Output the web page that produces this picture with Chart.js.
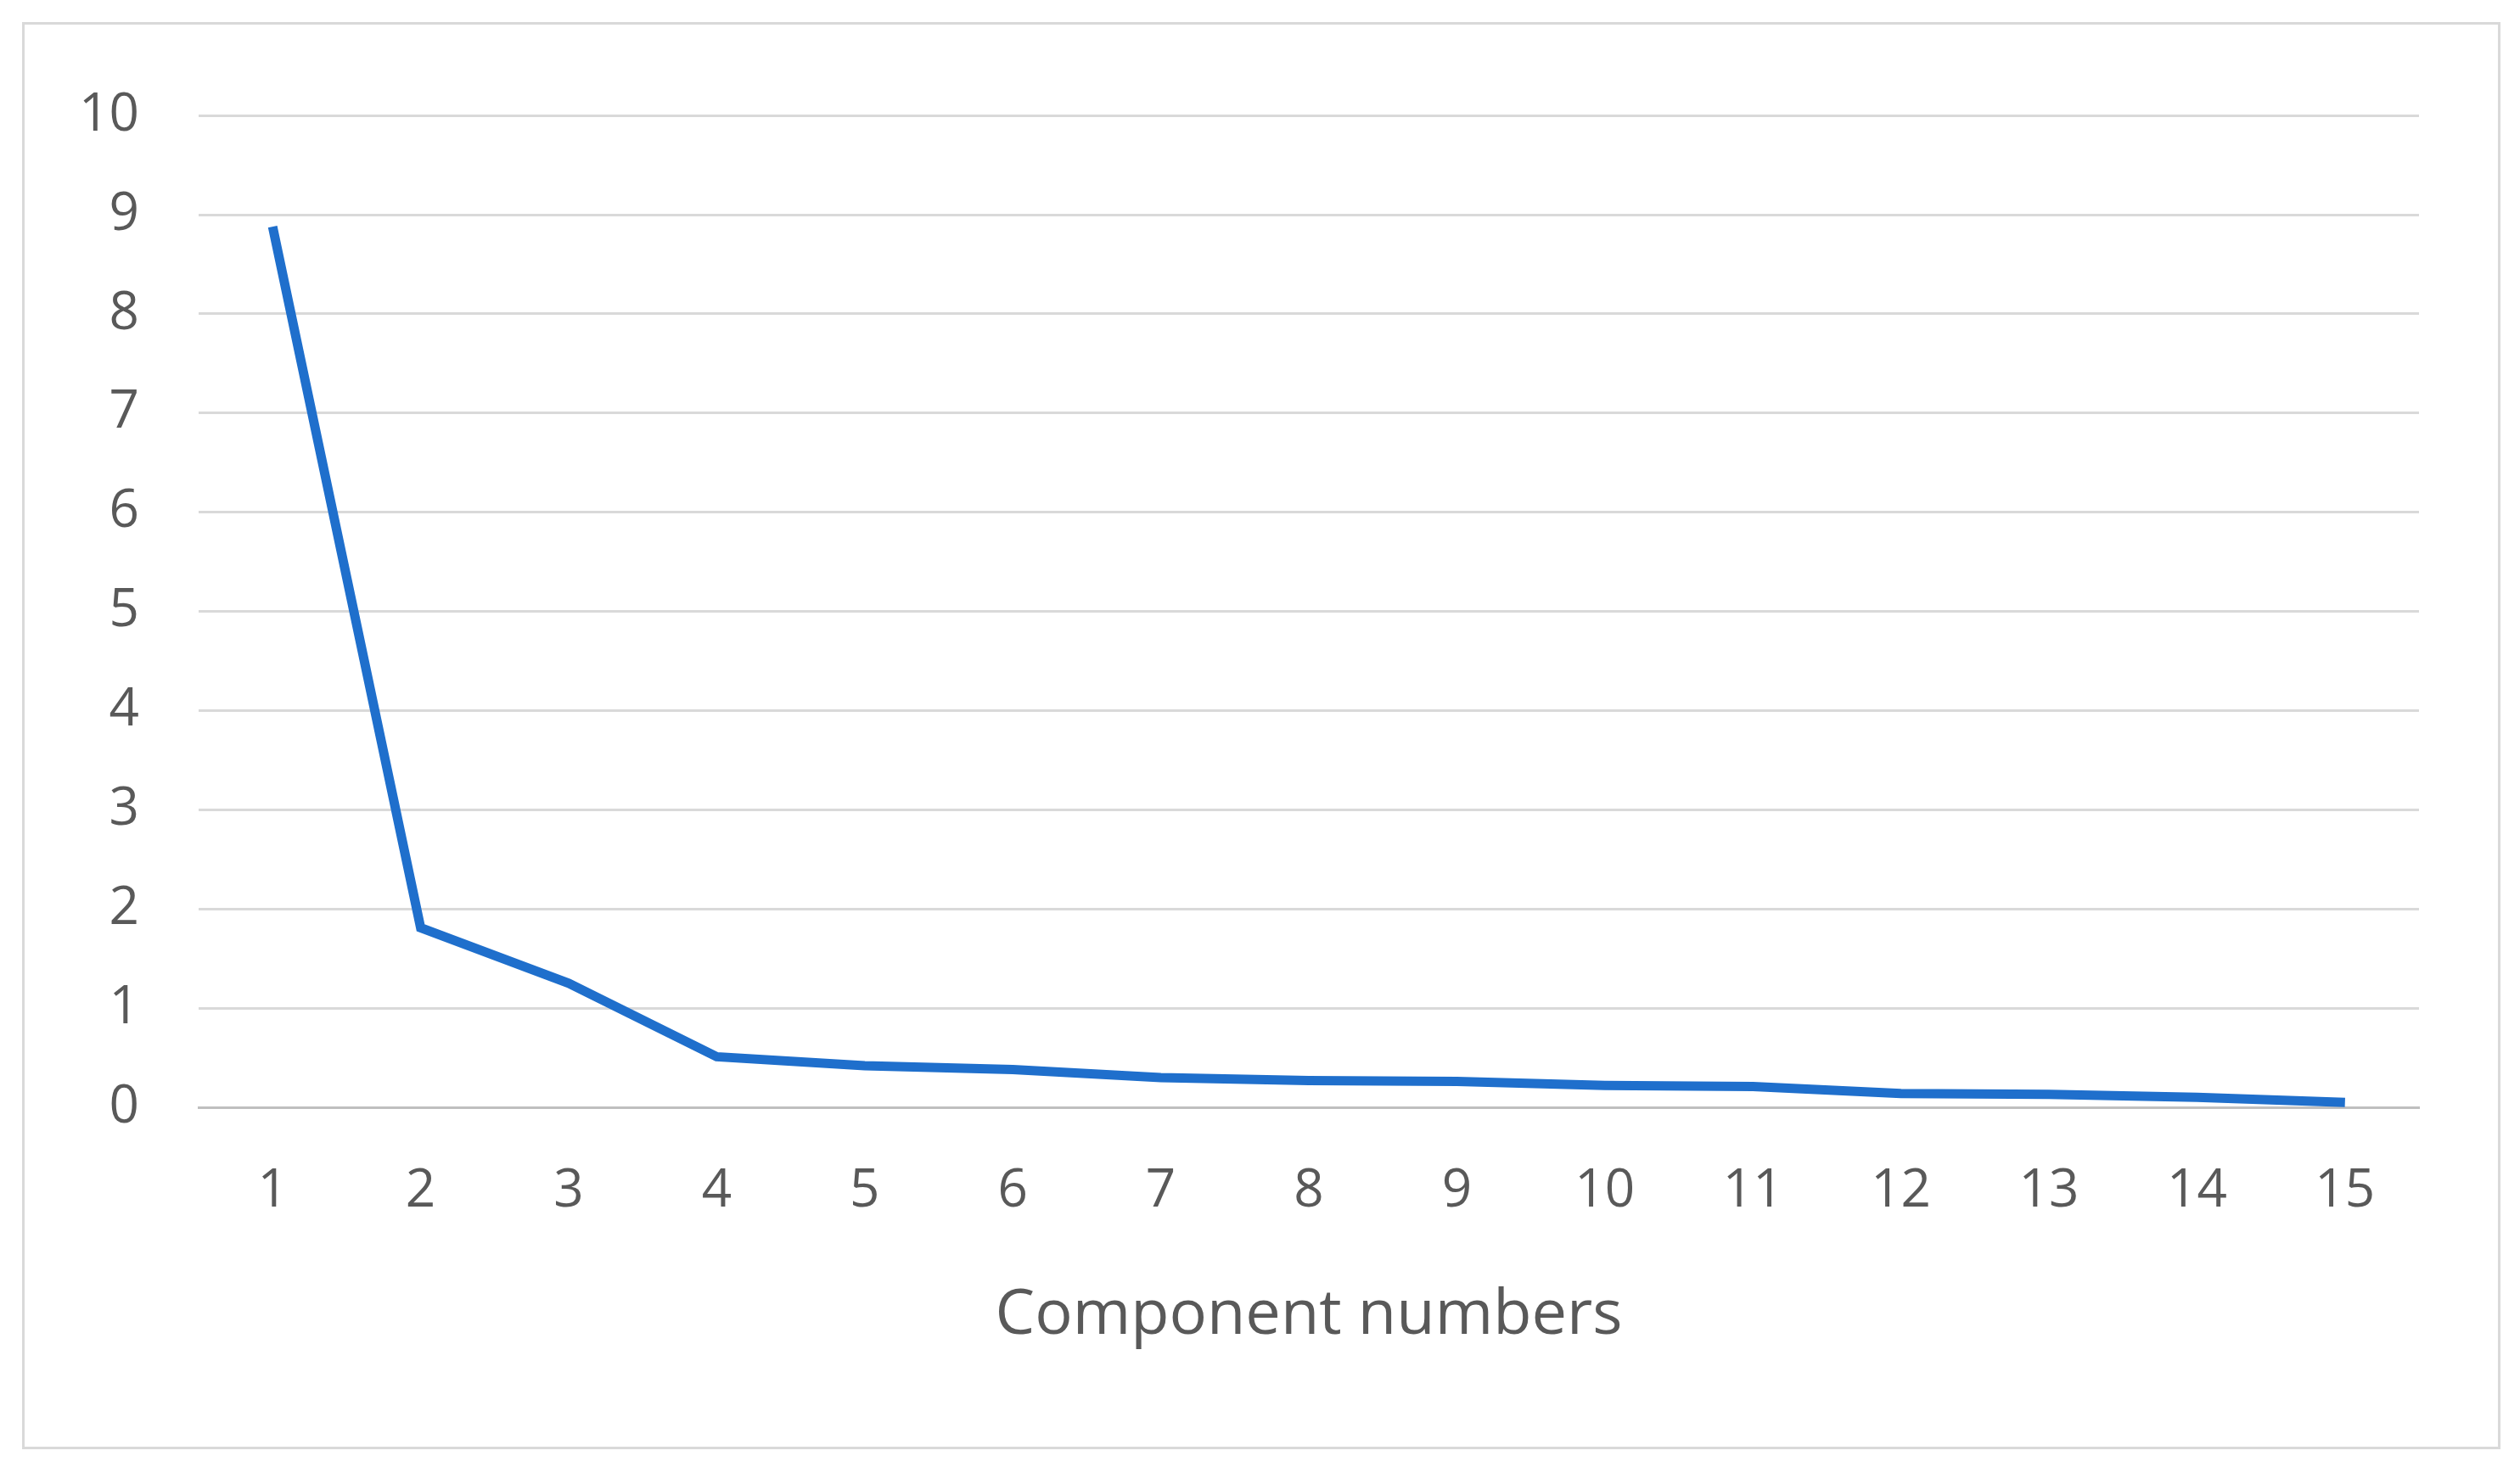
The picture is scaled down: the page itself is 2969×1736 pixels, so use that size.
<!DOCTYPE html>
<html><head><meta charset="utf-8">
<script src="https://cdn.jsdelivr.net/npm/chart.js@4/dist/chart.umd.min.js"></script>
<style>
html,body{margin:0;padding:0;background:#fff;}
#box{position:absolute;left:26px;top:26px;width:2914px;height:1676px;border:3px solid #d9d9d9;background:#fff;}
canvas{display:block;}
</style></head><body>
<div id="box"><canvas id="c" width="2914" height="1676"></canvas></div>
<script>
const categories = ["1","2","3","4","5","6","7","8","9","10","11","12","13","14","15"];
const values = [8.88,1.81,1.25,0.51,0.42,0.38,0.30,0.27,0.26,0.22,0.21,0.14,0.13,0.10,0.05];
const yTicks = [0,1,2,3,4,5,6,7,8,9,10];
const xTitle = "Component numbers";
const font = "'Open Sans', Lato, sans-serif";
new Chart(document.getElementById('c'), {
  type: 'line',
  data: { labels: categories, datasets: [{ data: values, borderColor: '#1F6FCC', borderWidth: 11, pointRadius: 0, tension: 0, fill: false }] },
  options: {
    responsive: false, animation: false,
    layout: { padding: { top: 85, right: 93, left: 0, bottom: 110 } },
    plugins: { legend: { display: false }, tooltip: { enabled: false } },
    scales: {
      x: {
        offset: true,
        grid: { display: false, drawTicks: false },
        border: { display: true, color: '#bfbfbf', width: 3 },
        ticks: { color: '#595959', font: { family: font, size: 62 }, padding: 62 },
        title: { display: true, text: xTitle, color: '#595959', font: { family: font, size: 74 }, padding: { top: 30, bottom: 0 } },
        afterFit: s => { s.height = 290; }
      },
      y: {
        min: 0, max: 10,
        afterBuildTicks: s => { s.ticks = yTicks.map(v => ({ value: v })); },
        grid: { color: '#d9d9d9', lineWidth: 3, drawTicks: false },
        border: { display: false },
        ticks: { color: '#595959', font: { family: font, size: 62 }, padding: 70 },
        afterFit: s => { s.width = 205; }
      }
    }
  }
});
</script></body></html>
